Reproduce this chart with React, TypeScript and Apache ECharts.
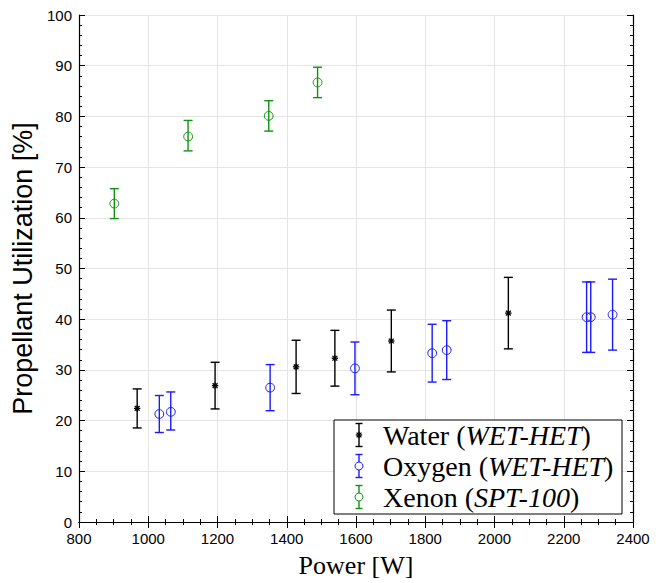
import React, { useEffect, useRef } from "react";
import * as echarts from "echarts";

// Water (WET-HET)
const waterPower = [968, 1193, 1427, 1539, 1702, 2040];
const waterUtil = [22.4, 26.9, 30.6, 32.3, 35.7, 41.2];
const waterErr = [3.85, 4.6, 5.25, 5.5, 6.1, 7.05];

// Oxygen (WET-HET)
const oxygenPower = [1032, 1065, 1352, 1597, 1820, 1862, 2266, 2278, 2341];
const oxygenUtil = [21.3, 21.9, 26.5, 30.3, 33.3, 33.9, 40.4, 40.4, 40.9];
const oxygenErr = [3.65, 3.75, 4.55, 5.2, 5.7, 5.8, 6.95, 6.95, 7.0];

// Xenon (SPT-100)
const xenonPower = [902, 1115, 1348, 1489];
const xenonUtil = [62.8, 76.2, 80.1, 86.7];
const xenonErr = [2.95, 3.0, 3.0, 3.0];

const xMin = 800, xMax = 2400, xInterval = 200;
const yMin = 0, yMax = 100, yInterval = 10;

const BLACK = "#000000";
const BLUE = "#1a1aff";
const GREEN = "#119111";

function makeRender(color: string, marker: "star" | "circle") {
  return (params: any, api: any) => {
    const x = api.value(0);
    const y = api.value(1);
    const e = api.value(2);
    const c = api.coord([x, y]);
    const t = api.coord([x, y + e]);
    const b = api.coord([x, y - e]);
    const hw = 4.5;
    const ls = { stroke: color, lineWidth: 1.4 };
    const children: any[] = [
      { type: "line", shape: { x1: t[0], y1: t[1], x2: b[0], y2: b[1] }, style: ls },
      { type: "line", shape: { x1: t[0] - hw, y1: t[1], x2: t[0] + hw, y2: t[1] }, style: ls },
      { type: "line", shape: { x1: b[0] - hw, y1: b[1], x2: b[0] + hw, y2: b[1] }, style: ls },
    ];
    if (marker === "circle") {
      children.push({
        type: "circle",
        shape: { cx: c[0], cy: c[1], r: 4.4 },
        style: { fill: "none", stroke: color, lineWidth: 1 },
      });
    } else {
      const s = 3.2;
      const d = s * 0.75;
      const ms = { stroke: color, lineWidth: 1.3 };
      children.push(
        { type: "line", shape: { x1: c[0] - s, y1: c[1], x2: c[0] + s, y2: c[1] }, style: ms },
        { type: "line", shape: { x1: c[0], y1: c[1] - s, x2: c[0], y2: c[1] + s }, style: ms },
        { type: "line", shape: { x1: c[0] - d, y1: c[1] - d, x2: c[0] + d, y2: c[1] + d }, style: ms },
        { type: "line", shape: { x1: c[0] - d, y1: c[1] + d, x2: c[0] + d, y2: c[1] - d }, style: ms }
      );
    }
    return { type: "group", children };
  };
}

function legendIcon(cx: number, cy: number, color: string, marker: "star" | "circle") {
  const h = 11.5, hw = 3.5;
  const ls = { stroke: color, lineWidth: 1.4 };
  const els: any[] = [
    { type: "line", shape: { x1: cx, y1: cy - h, x2: cx, y2: cy + h }, style: ls },
    { type: "line", shape: { x1: cx - hw, y1: cy - h, x2: cx + hw, y2: cy - h }, style: ls },
    { type: "line", shape: { x1: cx - hw, y1: cy + h, x2: cx + hw, y2: cy + h }, style: ls },
  ];
  if (marker === "circle") {
    els.push({ type: "circle", shape: { cx, cy, r: 4 }, style: { fill: "#fff", stroke: color, lineWidth: 1 } });
  } else {
    const s = 3.2, d = 2.4;
    const ms = { stroke: color, lineWidth: 1.3 };
    els.push(
      { type: "line", shape: { x1: cx - s, y1: cy, x2: cx + s, y2: cy }, style: ms },
      { type: "line", shape: { x1: cx, y1: cy - s, x2: cx, y2: cy + s }, style: ms },
      { type: "line", shape: { x1: cx - d, y1: cy - d, x2: cx + d, y2: cy + d }, style: ms },
      { type: "line", shape: { x1: cx - d, y1: cy + d, x2: cx + d, y2: cy - d }, style: ms }
    );
  }
  return els;
}

export default function App() {
  const ref = useRef<HTMLDivElement>(null);
  useEffect(() => {
    if (!ref.current) return;
    const chart = echarts.init(ref.current, undefined, { renderer: "svg" });
    const tickLabel = { fontFamily: "Liberation Sans, Arial, sans-serif", fontSize: 15, color: "#000", formatter: (v: number) => String(v) };
    const axisLine = { show: true, lineStyle: { color: "#000", width: 1.2 } };
    const baseX = {
      type: "value" as const,
      min: xMin,
      max: xMax,
      interval: xInterval,
      axisLine,
      axisTick: { inside: true, length: 6, lineStyle: { color: "#000", width: 1 } },
      minorTick: { show: true, splitNumber: 4, length: 3, lineStyle: { color: "#000", width: 1 } },
    };
    const baseY = {
      type: "value" as const,
      min: yMin,
      max: yMax,
      interval: yInterval,
      axisLine,
      axisTick: { inside: true, length: 6, lineStyle: { color: "#000", width: 1 } },
      minorTick: { show: true, splitNumber: 5, length: 3, lineStyle: { color: "#000", width: 1 } },
    };
    const legendX = 359;
    const legendTextX = 383;
    const rows = [435, 466, 497];
    const textStyleBase = {
      fontFamily: "Liberation Serif, Times New Roman, serif",
      fontSize: 28,
      fill: "#000",
      verticalAlign: "middle",
      align: "left",
      rich: { it: { fontStyle: "italic", fontFamily: "Liberation Serif, Times New Roman, serif", fontSize: 28 } },
    };
    chart.setOption({
      animation: false,
      backgroundColor: "#fff",
      grid: { left: 79, right: 30, top: 15, bottom: 57, containLabel: false },
      xAxis: [
        {
          ...baseX,
          position: "bottom",
          name: "Power [W]",
          nameLocation: "middle",
          nameGap: 30,
          nameTextStyle: { fontFamily: "Liberation Serif, Times New Roman, serif", fontSize: 26, color: "#000" },
          axisLabel: { ...tickLabel, margin: 9 },
          splitLine: { show: true, lineStyle: { color: "#e4e4e4", width: 1 } },
        },
        {
          ...baseX,
          position: "top",
          axisLabel: { show: false },
          splitLine: { show: false },
        },
      ],
      yAxis: [
        {
          ...baseY,
          position: "left",
          name: "Propellant Utilization [%]",
          nameLocation: "middle",
          nameGap: 38,
          nameTextStyle: { fontFamily: "Liberation Sans, Arial, sans-serif", fontSize: 27, color: "#000" },
          axisLabel: { ...tickLabel, margin: 7 },
          splitLine: { show: true, lineStyle: { color: "#e4e4e4", width: 1 } },
        },
        {
          ...baseY,
          position: "right",
          axisLabel: { show: false },
          splitLine: { show: false },
        },
      ],
      series: [
        {
          name: "Water (WET-HET)",
          type: "custom",
          renderItem: makeRender(BLACK, "star"),
          data: waterPower.map((x, i) => [x, waterUtil[i], waterErr[i]]),
          encode: { x: 0, y: 1 },
          z: 3,
        },
        {
          name: "Oxygen (WET-HET)",
          type: "custom",
          renderItem: makeRender(BLUE, "circle"),
          data: oxygenPower.map((x, i) => [x, oxygenUtil[i], oxygenErr[i]]),
          encode: { x: 0, y: 1 },
          z: 3,
        },
        {
          name: "Xenon (SPT-100)",
          type: "custom",
          renderItem: makeRender(GREEN, "circle"),
          data: xenonPower.map((x, i) => [x, xenonUtil[i], xenonErr[i]]),
          encode: { x: 0, y: 1 },
          z: 3,
        },
      ],
      graphic: [
        {
          type: "rect",
          shape: { x: 334, y: 420, width: 288, height: 94 },
          style: { fill: "#fff", stroke: "#000", lineWidth: 1 },
          z: 10,
        },
        ...legendIcon(legendX, rows[0], BLACK, "star").map((e) => ({ ...e, z: 11 })),
        ...legendIcon(legendX, rows[1], BLUE, "circle").map((e) => ({ ...e, z: 11 })),
        ...legendIcon(legendX, rows[2], GREEN, "circle").map((e) => ({ ...e, z: 11 })),
        { type: "text", x: legendTextX, y: rows[0], z: 11, style: { ...textStyleBase, text: "Water ({it|WET-HET})" } },
        { type: "text", x: legendTextX, y: rows[1], z: 11, style: { ...textStyleBase, text: "Oxygen ({it|WET-HET})" } },
        { type: "text", x: legendTextX, y: rows[2], z: 11, style: { ...textStyleBase, text: "Xenon ({it|SPT-100})" } },
      ],
    });
    return () => chart.dispose();
  }, []);
  return <div ref={ref} style={{ width: 663, height: 583, position: "absolute", left: 0, top: 0 }} />;
}
